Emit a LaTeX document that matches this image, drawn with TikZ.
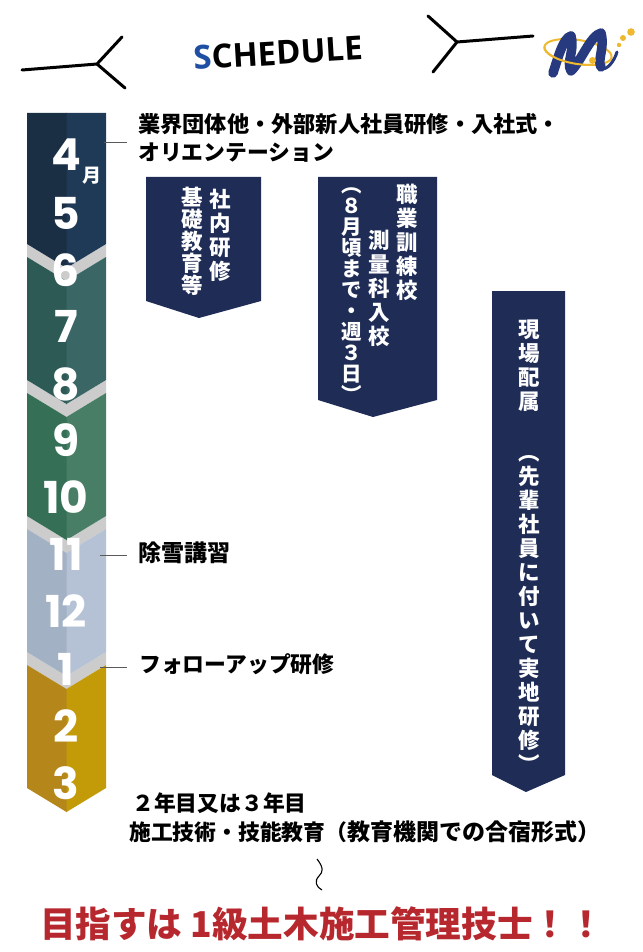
\documentclass[tikz,border=0pt]{standalone}
\usepackage{fontspec}
\setmainfont{Noto Sans CJK JP Black}
\newfontfamily\numfont{Poppins}
\newfontfamily\latinfam{Open Sans}
\definecolor{navyd}{HTML}{1A2E44}
\definecolor{navyl}{HTML}{1F3A57}
\definecolor{teald}{HTML}{2E5A56}
\definecolor{teall}{HTML}{3A6665}
\definecolor{greend}{HTML}{356F56}
\definecolor{greenl}{HTML}{497E66}
\definecolor{paled}{HTML}{A3B1C5}
\definecolor{palel}{HTML}{B5C1D4}
\definecolor{goldd}{HTML}{B5861A}
\definecolor{goldl}{HTML}{C39A08}
\definecolor{gapgray}{HTML}{CCCCCC}
\definecolor{bannerblue}{HTML}{1E2C56}
\definecolor{logoblue}{HTML}{27397F}
\definecolor{logoyellow}{HTML}{EEB92F}
\definecolor{goalred}{HTML}{B7282E}
\definecolor{sblue}{HTML}{1F4FA3}
\tikzset{
  month/.style={text=white, inner sep=0pt, font=\numfont\bfseries\fontsize{44}{44}\selectfont},
  note/.style={anchor=west, inner sep=0pt, font=\fontsize{21.8}{28}\selectfont, align=left},
  tate/.style={anchor=north, inner sep=0pt, text=white, align=center, font=\fontsize{21.5}{24}\selectfont},
  tatetight/.style={tate, font=\fontsize{21.5}{22}\selectfont},
  tatesmall/.style={tate, font=\fontsize{20.5}{21}\selectfont},
  leader/.style={draw=black!65, line width=1pt},
  fork/.style={line width=3pt, line cap=round}
}
\begin{document}
\begin{tikzpicture}[x=1pt, y=-1pt]
\useasboundingbox (0, 0) rectangle (642, 952);

% heading
\path (22, 70) coordinate (fl0) (97, 64) coordinate (fl1) (122, 37) coordinate (fl2) (125, 88) coordinate (fl3)
      (533, 36) coordinate (fr0) (457, 42) coordinate (fr1) (428, 16) coordinate (fr2) (433, 72) coordinate (fr3);
\draw[fork] (fl0) -- (fl1) (fl2) -- (fl1) -- (fl3);
\draw[fork] (fr0) -- (fr1) (fr2) -- (fr1) -- (fr3);
\path (278, 53) node[rotate=3.5, inner sep=0pt, font=\latinfam\bfseries\fontsize{33}{33}\selectfont] (title) {\textcolor{sblue}{S}CHEDULE};

% logo
\draw[logoyellow, line width=2pt, rotate around={-9:(578, 52)}] (578, 52) ellipse [x radius=34, y radius=12];
\draw[logoblue, line width=9.5pt, line cap=round] (553, 73) .. controls (558, 58) and (563, 38) .. (571, 36);
\draw[logoblue, line width=9.5pt, line cap=round] (571, 36) .. controls (575, 50) and (566, 62) .. (571, 71)
      (571, 71) .. controls (582, 60) and (590, 36) .. (601, 33)
      (601, 33) .. controls (605, 48) and (597, 60) .. (601, 67);
\draw[logoblue, line width=3pt, line cap=round] (601, 69) .. controls (607, 70) and (614, 62) .. (617, 52);
\draw[logoyellow, line width=2pt, rotate around={-9:(578, 52)}] (544, 52) arc [x radius=34, y radius=12, start angle=180, end angle=60];
\fill[logoyellow] (592.5, 60.5) circle [radius=3.5] (619, 45) circle [radius=2.2] (623, 38) circle [radius=3] (631, 32) circle [radius=3.8];

% month column
\fill[gapgray] (27, 244) -- (66.5, 268) -- (106, 244) -- (106, 257) -- (66.5, 281) -- (27, 257) -- cycle
      (27, 380) -- (66.5, 404) -- (106, 380) -- (106, 393) -- (66.5, 417) -- (27, 393) -- cycle
      (27, 516) -- (66.5, 540) -- (106, 516) -- (106, 529) -- (66.5, 553) -- (27, 529) -- cycle
      (27, 652) -- (66.5, 676) -- (106, 652) -- (106, 665) -- (66.5, 689) -- (27, 665) -- cycle;
\fill[navyl] (66, 113) -- (106, 113) -- (106, 244) -- (66.5, 268) -- (66, 268) -- cycle;
\fill[navyd] (27, 113) -- (66.5, 113) -- (66.5, 268) -- (27, 244) -- cycle;
\foreach \ya/\yb/\cdark/\clight in {257/380/teald/teall, 393/516/greend/greenl, 529/652/paled/palel, 665/788/goldd/goldl} {
  \fill[\clight] (106, \ya) -- (66.5, \ya+24) -- (66, \ya+24) -- (66, \yb+24) -- (66.5, \yb+24) -- (106, \yb) -- cycle;
  \fill[\cdark] (27, \ya) -- (66.5, \ya+24) -- (66.5, \yb+24) -- (27, \yb) -- cycle;
}
\path (66, 155) node[month] (m4) {4}
      (92, 176) node[text=white, inner sep=0pt, font=\fontsize{19}{19}\selectfont] (tsuki) {月}
      (66, 213) node[month] (m5) {5}
      (66, 270) node[month] (m6) {6}
      (66, 326) node[month] (m7) {7}
      (66, 384) node[month] (m8) {8}
      (66, 440) node[month] (m9) {9}
      (66, 497) node[month] (m10) {10}
      (66, 554) node[month] (m11) {11}
      (66, 611) node[month] (m12) {12}
      (66, 669) node[month] (m1) {1}
      (66, 726) node[month] (m2) {2}
      (66, 783) node[month] (m3) {3};

% notes on the column
\path (138, 138) node[note] (note1) {{\fontsize{22.2}{28}\selectfont 業界団体他・外部新人社員研修・入社式・}\\オリエンテーション}
      (138, 553) node[note, font=\fontsize{23}{28}\selectfont] (note2) {除雪講習}
      (139, 664) node[note] (note3) {フォローアップ研修};
\path (104, 143) coordinate (t1) (127, 143) coordinate (t1e)
      (100, 555) coordinate (t2) (127, 555) coordinate (t2e)
      (100, 667) coordinate (t3) (127, 667) coordinate (t3e);
\draw[leader] (t1) -- (t1e);
\draw[leader] (t2) -- (t2e);
\draw[leader] (t3) -- (t3e);

% banners
\fill[bannerblue] (146, 177) -- (261, 177) -- (261, 301) -- (199, 318) -- (146, 301) -- cycle;
\fill[bannerblue] (318, 177) -- (437, 177) -- (437, 400) -- (373, 417) -- (318, 400) -- cycle;
\fill[bannerblue] (492, 291) -- (565, 291) -- (565, 775) -- (526, 792) -- (492, 775) -- cycle;
\path (220, 188.5) node[tate] (b1a) {社\\内\\研\\修}
      (192, 187) node[tatetight] (b1b) {基\\礎\\教\\育\\等}
      (407, 184) node[tate] (b2a) {職\\業\\訓\\練\\校}
      (379, 230) node[tate] (b2b) {測\\量\\科\\入\\校}
      (352, 187) node[tatesmall] (b2c) {︵\\８\\月\\頃\\ま\\で\\・\\週\\３\\日\\︶}
      (529, 320) node[tate] (b3a) {現\\場\\配\\属}
      (529, 455) node[tate] (b3b) {︵\\先\\輩\\社\\員\\に\\付\\い\\て\\実\\地\\研\\修\\︶};

% bottom
\path (132, 803) node[note] (edu1) {２年目又は３年目}
      (129, 832) node[note] (edu2) {施工技術・技能教育（{\fontsize{23}{28}\selectfont 教育機関での合宿形式）}}
      (322, 924) node[inner sep=0pt, text=goalred, font=\fontsize{35.6}{36}\selectfont] (goal) {目指すは 1級土木施工管理技士！！};
\path (317, 859) coordinate (w0) (322, 890) coordinate (w1);
\draw[line width=1.1pt] (w0) .. controls (324, 868) and (323, 872) .. (319, 876) .. controls (314, 881) and (316, 887) .. (w1);
\end{tikzpicture}
\end{document}
